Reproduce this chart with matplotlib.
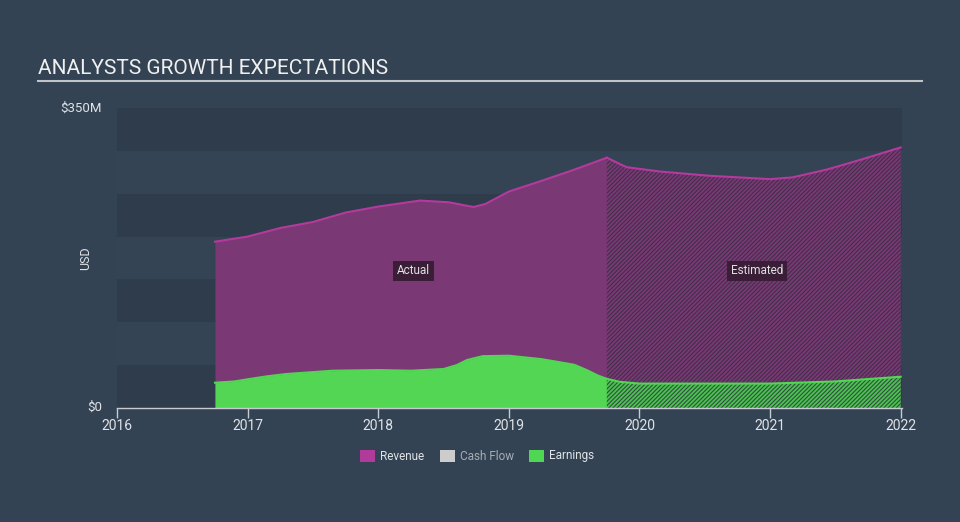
import numpy as np
import matplotlib.pyplot as plt
from matplotlib.patches import Rectangle

plt.rcParams['font.family'] = ['Roboto', 'DejaVu Sans']
plt.rcParams['hatch.linewidth'] = 0.8

# 数据 (百万美元)
rev_years = [2016.75, 2017.0, 2017.25, 2017.5, 2017.75, 2018.0, 2018.32, 2018.54,
             2018.73, 2018.82, 2019.0, 2019.25, 2019.5, 2019.75]
rev_values = [194, 200, 210, 217, 228, 235, 242, 240, 234.5, 238, 252.5, 265, 278, 292]
est_rev_years = [2019.75, 2019.9, 2020.15, 2020.53, 2021.0, 2021.17, 2021.43, 2021.68, 2022.0]
est_rev_values = [292, 281, 276, 271, 267, 269, 278, 289, 304]

earn_years = [2016.75, 2016.9, 2017.0, 2017.15, 2017.3, 2017.65, 2018.0, 2018.25,
              2018.5, 2018.6, 2018.68, 2018.8, 2019.0, 2019.25, 2019.5, 2019.6,
              2019.68, 2019.75]
earn_values = [29.5, 31, 33.5, 37, 39.7, 43.5, 44.3, 43.5, 45.5, 50, 56, 60.5, 61,
               57, 50.5, 44, 38, 34]
est_earn_years = [2019.75, 2019.85, 2020.0, 2020.5, 2021.0, 2021.5, 2022.0]
est_earn_values = [34, 30.5, 28.5, 28.5, 28.5, 31, 36.5]

year_ticks = [2016, 2017, 2018, 2019, 2020, 2021, 2022]

bg = '#334353'
band_dark = '#2e3c4b'
band_light = '#344455'
rev_fill = '#7a3874'
rev_line = '#b43a9d'
earn_color = '#52d653'

fig = plt.figure(figsize=(9.6, 5.22), dpi=100, facecolor=bg)
ax = fig.add_axes([117 / 960, 114 / 522, 785 / 960, 300 / 522])
ax.set_facecolor(bg)
ax.set_xlim(2016, 2022.01)
ax.set_ylim(0, 350)

# 背景条纹
for i, lo in enumerate(range(0, 350, 50)):
    ax.axhspan(lo, lo + 50, color=band_dark if i % 2 == 0 else band_light, lw=0, zorder=0)

# 实际值
ax.fill_between(rev_years, 0, rev_values, color=rev_fill, lw=0, zorder=1)
ax.plot(rev_years, rev_values, color=rev_line, lw=1.5, zorder=3)
ax.fill_between(earn_years, 0, earn_values, color=earn_color, lw=0, zorder=2)
ax.plot(earn_years, earn_values, color=earn_color, lw=1.5, zorder=3)

# 预测值 (阴影线)
ax.fill_between(est_rev_years, 0, est_rev_values, facecolor=rev_fill,
                edgecolor='#40304a', hatch='/' * 8, lw=0, zorder=1)
ax.plot(est_rev_years, est_rev_values, color=rev_line, lw=1.5, zorder=3)
ax.fill_between(est_earn_years, 0, est_earn_values, facecolor='#4cc250',
                edgecolor='#2f4f40', hatch='/' * 8, lw=0, zorder=2)
ax.plot(est_earn_years, est_earn_values, color=earn_color, lw=1.5, zorder=3)

for label, xpos in [('Actual', 2018.27), ('Estimated', 2020.9)]:
    ax.text(xpos, 160, label, color='#e0e0e0', fontsize=8.5, ha='center', va='center',
            zorder=5, bbox=dict(boxstyle='square,pad=0.3', fc='#3a1e38', ec='none'))

for s in ['top', 'right', 'left']:
    ax.spines[s].set_visible(False)
ax.spines['bottom'].set_color('#c8ccd2')
ax.spines['bottom'].set_linewidth(1)
ax.set_xticks(year_ticks)
ax.set_xticklabels([str(y) for y in year_ticks])
ax.tick_params(axis='x', colors='#c8ccd2', labelcolor='#e0e3e6', labelsize=10,
               length=7, width=1, pad=1)
ax.set_yticks([])

fig.text(102 / 960, 1 - 108 / 522, '$350M', color='#e0e3e6', fontsize=9.5, ha='right', va='center')
fig.text(102 / 960, 1 - 407 / 522, '$0', color='#e0e3e6', fontsize=9.5, ha='right', va='center')
fig.text(86 / 960, 1 - 258 / 522, 'USD', color='#e0e3e6', fontsize=9, rotation=90,
         ha='center', va='center')

fig.text(38 / 960, 1 - 68 / 522, 'ANALYSTS GROWTH EXPECTATIONS', color='#f0f0f0',
         fontsize=15, ha='left', va='center')
fig.add_artist(plt.Line2D([38 / 960, 922 / 960], [1 - 81 / 522, 1 - 81 / 522],
                          color='#c0c4c8', lw=1.5))

# 图例
legend_items = [('Revenue', '#b23a9a', '#e0e3e6', 360),
                ('Cash Flow', '#cccccc', '#a8adb3', 440),
                ('Earnings', '#4fd653', '#e0e3e6', 529)]
for name, c, tc, px in legend_items:
    fig.add_artist(Rectangle((px / 960, 1 - 462 / 522), 15 / 960, 12 / 522,
                             transform=fig.transFigure, fc=c, ec='none'))
    fig.text((px + 20) / 960, 1 - 456 / 522, name, color=tc, fontsize=8.5,
             ha='left', va='center')

fig.savefig('out.png', dpi=100, facecolor=bg)
